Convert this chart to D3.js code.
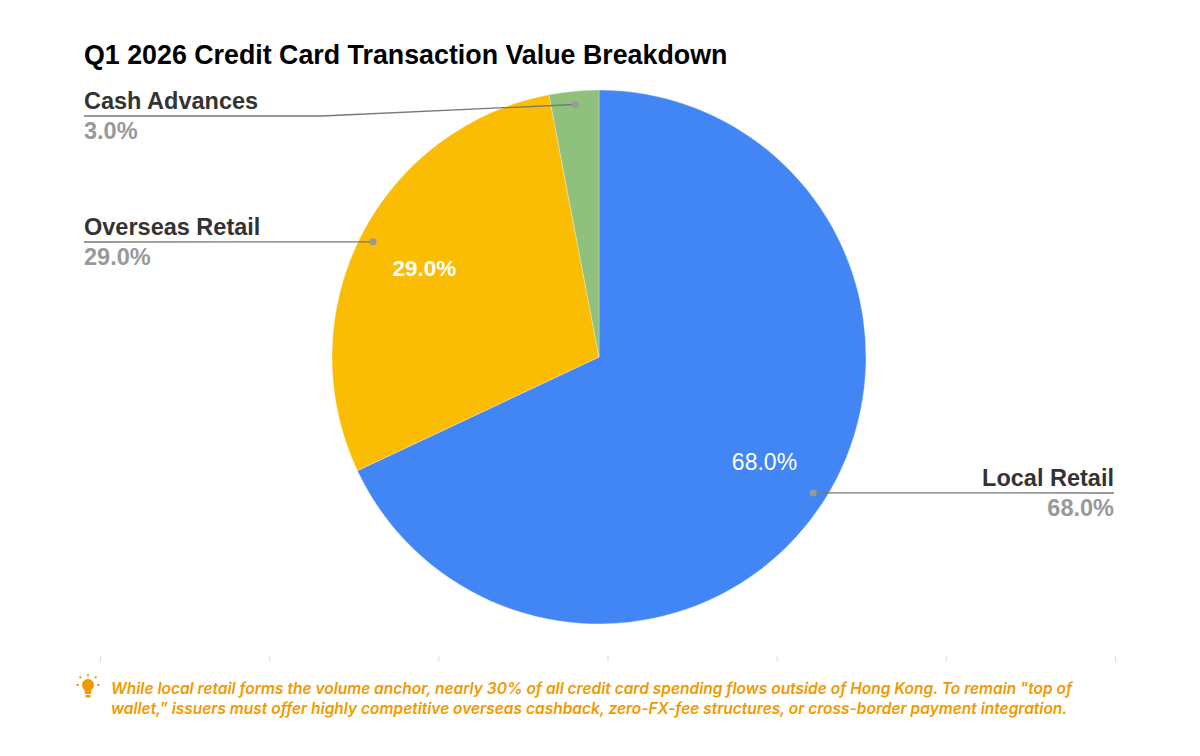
<!DOCTYPE html>
<html>
<head>
<meta charset="utf-8">
<script src="https://cdn.jsdelivr.net/npm/d3@7"></script>
<style>
  body { margin: 0; background: #fff; }
  svg { display: block; }
</style>
</head>
<body>
<script>
var categories = ["Local Retail", "Overseas Retail", "Cash Advances"];
var shares = [68.0, 29.0, 3.0];
var colors = ["#4285F4", "#FBBC04", "#8FC07C"];
var ticks = [0, 1, 2, 3, 4, 5, 6];

var title = "Q1 2026 Credit Card Transaction Value Breakdown";
var note = [
    "While local retail forms the volume anchor, nearly 30% of all credit card spending flows outside of Hong Kong. To remain \"top of",
    "wallet,\" issuers must offer highly competitive overseas cashback, zero-FX-fee structures, or cross-border payment integration."
];

var width = 1200, height = 756;
var cx = 599, cy = 357, radius = 267;
var font = "Liberation Sans, Arial, sans-serif";

var svg = d3.select("body").append("svg")
    .attr("width", width)
    .attr("height", height);

svg.append("text")
    .attr("x", 84)
    .attr("y", 64)
    .attr("font-family", font)
    .attr("font-weight", "bold")
    .attr("font-size", 26.8)
    .attr("fill", "#000")
    .text(title);

var pie = d3.pie().sort(null).value(function(d) { return d; });
var arcs = pie(shares);
var arc = d3.arc().innerRadius(0).outerRadius(radius);
var dotArc = d3.arc().innerRadius(radius * 0.95).outerRadius(radius * 0.95);

var g = svg.append("g").attr("transform", "translate(" + cx + "," + cy + ")");

g.selectAll("path")
    .data(arcs)
    .enter()
    .append("path")
    .attr("d", arc)
    .attr("fill", function(d, i) { return colors[i]; })
    .attr("stroke", "#fff")
    .attr("stroke-width", 0.3);

// inner labels (not for the small slice)
var innerArc = d3.arc().innerRadius(radius * 0.734).outerRadius(radius * 0.734);
g.selectAll("text.inner")
    .data(arcs.filter(function(d) { return d.data >= 10; }))
    .enter()
    .append("text")
    .attr("class", "inner")
    .attr("transform", function(d) {
        var c = innerArc.centroid(d);
        return "translate(" + c[0] + "," + c[1] + ")";
    })
    .attr("text-anchor", "middle")
    .attr("dy", "0.35em")
    .attr("font-family", font)
    .attr("font-size", function(d) { return d.index === 1 ? 22.5 : 23; })
    .attr("font-weight", function(d) { return d.index === 1 ? "bold" : "normal"; })
    .attr("fill", "#fff")
    .text(function(d) { return d.data.toFixed(1) + "%"; });

// outside labels with leader lines
var labelRows = [
    { side: "right", y: 493 },
    { side: "left", y: 242 },
    { side: "left", y: 116 }
];

arcs.forEach(function(d, i) {
    var p = dotArc.centroid(d);
    var px = cx + p[0], py = cy + p[1];
    var row = labelRows[i];
    var endX = row.side === "left" ? 84 : 1114;
    var pts = [[px, py]];
    if (Math.abs(py - row.y) > 1) {
        pts.push([322, row.y]);
    }
    pts.push([endX, row.y]);
    svg.append("path")
        .attr("d", d3.line()(pts))
        .attr("fill", "none")
        .attr("stroke", "#777")
        .attr("stroke-width", 1.3);
    svg.append("circle")
        .attr("cx", px)
        .attr("cy", py)
        .attr("r", 3.5)
        .attr("fill", "#999");
    var anchor = row.side === "left" ? "start" : "end";
    svg.append("text")
        .attr("x", endX)
        .attr("y", row.y - 7)
        .attr("text-anchor", anchor)
        .attr("font-family", font)
        .attr("font-weight", "bold")
        .attr("font-size", 23.5)
        .attr("fill", "#333")
        .text(categories[i]);
    svg.append("text")
        .attr("x", endX)
        .attr("y", row.y + 23)
        .attr("text-anchor", anchor)
        .attr("font-family", font)
        .attr("font-weight", "bold")
        .attr("font-size", 23.5)
        .attr("fill", "#999")
        .text(d.data.toFixed(1) + "%");
});

// faint bottom axis ticks
var x = d3.scaleLinear().domain([0, 6]).range([100, 1115]);
var axis = svg.append("g")
    .attr("transform", "translate(0,656)")
    .call(d3.axisBottom(x).tickValues(ticks).tickSize(6).tickFormat(""));
axis.select(".domain").remove();
axis.selectAll(".tick line").attr("stroke", "#ddd");

// footnote with lightbulb
var orange = "#F29900";
var bulb = svg.append("g").attr("transform", "translate(88,687)");
bulb.append("circle").attr("cx", 0).attr("cy", -2).attr("r", 6).attr("fill", orange);
bulb.append("path").attr("d", "M-3.5,2 L3.5,2 L3,7 L-3,7 Z").attr("fill", orange);
bulb.append("rect").attr("x", -2.5).attr("y", 8).attr("width", 5).attr("height", 2.5).attr("fill", orange);
[[0, -13, 0, -10.5], [-9, -2, -11.5, -2], [9, -2, 11.5, -2], [-7, -9, -8.5, -10.5], [7, -9, 8.5, -10.5]].forEach(function(r) {
    bulb.append("line")
        .attr("x1", r[0]).attr("y1", r[1]).attr("x2", r[2]).attr("y2", r[3])
        .attr("stroke", orange).attr("stroke-width", 1.8);
});

svg.selectAll("text.note")
    .data(note)
    .enter()
    .append("text")
    .attr("class", "note")
    .attr("x", 111)
    .attr("y", function(d, i) { return 694 + i * 19.5; })
    .attr("font-family", "Inter, sans-serif")
    .attr("font-style", "italic")
    .attr("font-weight", 600)
    .attr("font-size", 15.5)
    .attr("fill", orange)
    .text(function(d) { return d; });
</script>
</body>
</html>
